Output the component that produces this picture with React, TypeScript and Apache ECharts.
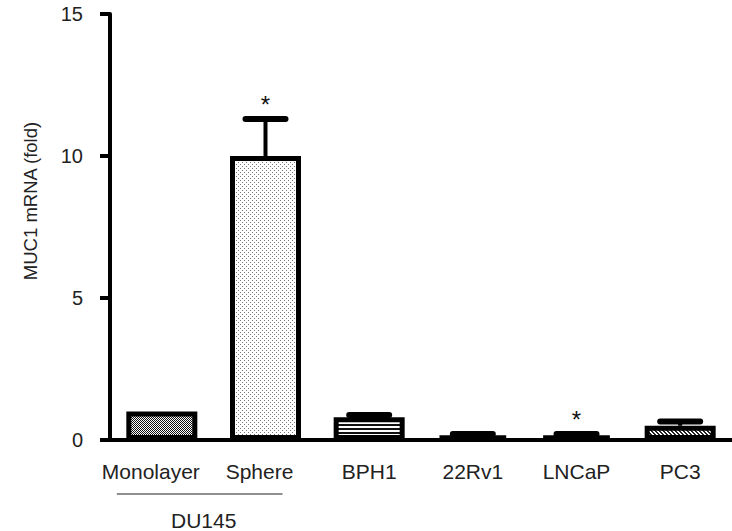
import React, { useEffect, useRef } from "react";
import * as echarts from "echarts";

const categories = ["Monolayer", "Sphere", "BPH1", "22Rv1", "LNCaP", "PC3"];
const means = [1.0, 10.0, 0.8, 0.15, 0.15, 0.5];
const errors = [0.0, 1.3, 0.08, 0.06, 0.06, 0.15];
const significant = [false, true, false, false, true, false];
const yTicks = [0, 5, 10, 15];
const yTitle = "MUC1 mRNA (fold)";
const groupLabel = "DU145";

function makePattern(kind: string): HTMLCanvasElement {
  const c = document.createElement("canvas");
  const ctx = c.getContext("2d")!;
  if (kind === "checker") {
    c.width = 2; c.height = 2;
    ctx.fillStyle = "#fff"; ctx.fillRect(0, 0, 2, 2);
    ctx.fillStyle = "#111"; ctx.fillRect(0, 0, 1, 1); ctx.fillRect(1, 1, 1, 1);
  } else if (kind === "dots") {
    c.width = 4; c.height = 4;
    ctx.fillStyle = "#fff"; ctx.fillRect(0, 0, 4, 4);
    ctx.fillStyle = "#777"; ctx.fillRect(0, 0, 1, 1); ctx.fillRect(2, 2, 1, 1);
  } else if (kind === "hlines") {
    c.width = 4; c.height = 4;
    ctx.fillStyle = "#fff"; ctx.fillRect(0, 0, 4, 4);
    ctx.fillStyle = "#111"; ctx.fillRect(0, 0, 4, 2);
  } else if (kind === "diag") {
    c.width = 4; c.height = 4;
    ctx.fillStyle = "#fff"; ctx.fillRect(0, 0, 4, 4);
    ctx.fillStyle = "#222";
    for (let i = 0; i < 4; i++) { ctx.fillRect(i, i, 1, 1); ctx.fillRect((i + 1) % 4, i, 1, 1); }
  } else {
    c.width = 2; c.height = 2;
    ctx.fillStyle = "#000"; ctx.fillRect(0, 0, 2, 2);
  }
  return c;
}

const fills = ["checker", "dots", "hlines", "solid", "solid", "diag"];
const labelShiftLeft = [22, 12, 0, 0, 0, 0];

export default function App() {
  const ref = useRef<HTMLDivElement>(null);
  useEffect(() => {
    if (!ref.current) return;
    const chart = echarts.init(ref.current, null, { renderer: "svg" });
    const font = "'Liberation Sans', Arial, sans-serif";
    const barData = means.map((v, i) => ({
      value: v,
      itemStyle: {
        color: { image: makePattern(fills[i]), repeat: "repeat" } as any,
        borderColor: "#000",
        borderWidth: 5,
      },
    }));
    const catData = categories.map((c, i) => ({
      value: c,
      textStyle: { padding: [0, labelShiftLeft[i], 0, 0] },
    }));
    const errData = means.map((v, i) => [i, v, errors[i], significant[i] ? 1 : 0]);
    chart.setOption({
      animation: false,
      backgroundColor: "#fff",
      grid: { left: 110, top: 14, width: 638, height: 426 },
      xAxis: {
        type: "category",
        data: catData,
        axisLine: { lineStyle: { color: "#000", width: 4 } },
        axisTick: { alignWithLabel: true, length: 5, lineStyle: { color: "#000", width: 3 } },
        axisLabel: { color: "#222", fontSize: 21, fontFamily: font, margin: 21, interval: 0 },
      },
      yAxis: {
        type: "value",
        min: 0,
        max: 15,
        interval: 5,
        splitLine: { show: false },
        axisLine: { show: true, lineStyle: { color: "#000", width: 4 } },
        axisTick: { show: true, length: 10, lineStyle: { color: "#000", width: 4 } },
        axisLabel: {
          color: "#222", fontSize: 20, fontFamily: font, margin: 27,
          formatter: (v: number) => (yTicks.includes(v) ? String(v) : ""),
        },
      },
      series: [
        { type: "bar", data: barData, barWidth: 71, z: 2 },
        {
          type: "custom",
          z: 3,
          data: errData,
          renderItem: (params: any, api: any) => {
            const idx = api.value(0);
            const m = api.value(1);
            const e = api.value(2);
            const s = api.value(3);
            const base = api.coord([idx, m]);
            const top = api.coord([idx, m + e]);
            const children: any[] = [];
            if (e > 0) {
              children.push({
                type: "line",
                shape: { x1: base[0], y1: base[1], x2: top[0], y2: top[1] },
                style: { stroke: "#000", lineWidth: 4 },
              });
              children.push({
                type: "line",
                shape: { x1: top[0] - 20, y1: top[1], x2: top[0] + 20, y2: top[1] },
                style: { stroke: "#000", lineWidth: 6, lineCap: "round" },
              });
            }
            if (s) {
              children.push({
                type: "text",
                style: {
                  text: "*", x: top[0], y: top[1] - 15,
                  fontSize: 24, fontFamily: font, fill: "#111",
                  align: "center", verticalAlign: "middle",
                },
              });
            }
            return { type: "group", children };
          },
        },
      ],
    });
    const p0 = chart.convertToPixel({ xAxisIndex: 0 }, categories[0]) as number;
    const p1 = chart.convertToPixel({ xAxisIndex: 0 }, categories[1]) as number;
    const baseY = chart.convertToPixel({ yAxisIndex: 0 }, 0) as number;
    chart.setOption({
      graphic: [
        {
          type: "text",
          x: 30,
          y: 201,
          rotation: Math.PI / 2,
          style: {
            text: yTitle, fontSize: 18.5, fontFamily: font, fill: "#222",
            align: "center", verticalAlign: "middle",
          },
        },
        {
          type: "line",
          shape: { x1: p0 - 45, y1: baseY + 54, x2: p1 + 17, y2: baseY + 54 },
          style: { stroke: "#222", lineWidth: 1.2 },
        },
        {
          type: "text",
          x: (p0 + p1) / 2 - 10,
          y: baseY + 80,
          style: {
            text: groupLabel, fontSize: 21, fontFamily: font, fill: "#222",
            align: "center", verticalAlign: "middle",
          },
        },
      ],
    });
    return () => chart.dispose();
  }, []);
  return <div ref={ref} style={{ width: 732, height: 531, position: "absolute", left: 0, top: 0 }} />;
}
